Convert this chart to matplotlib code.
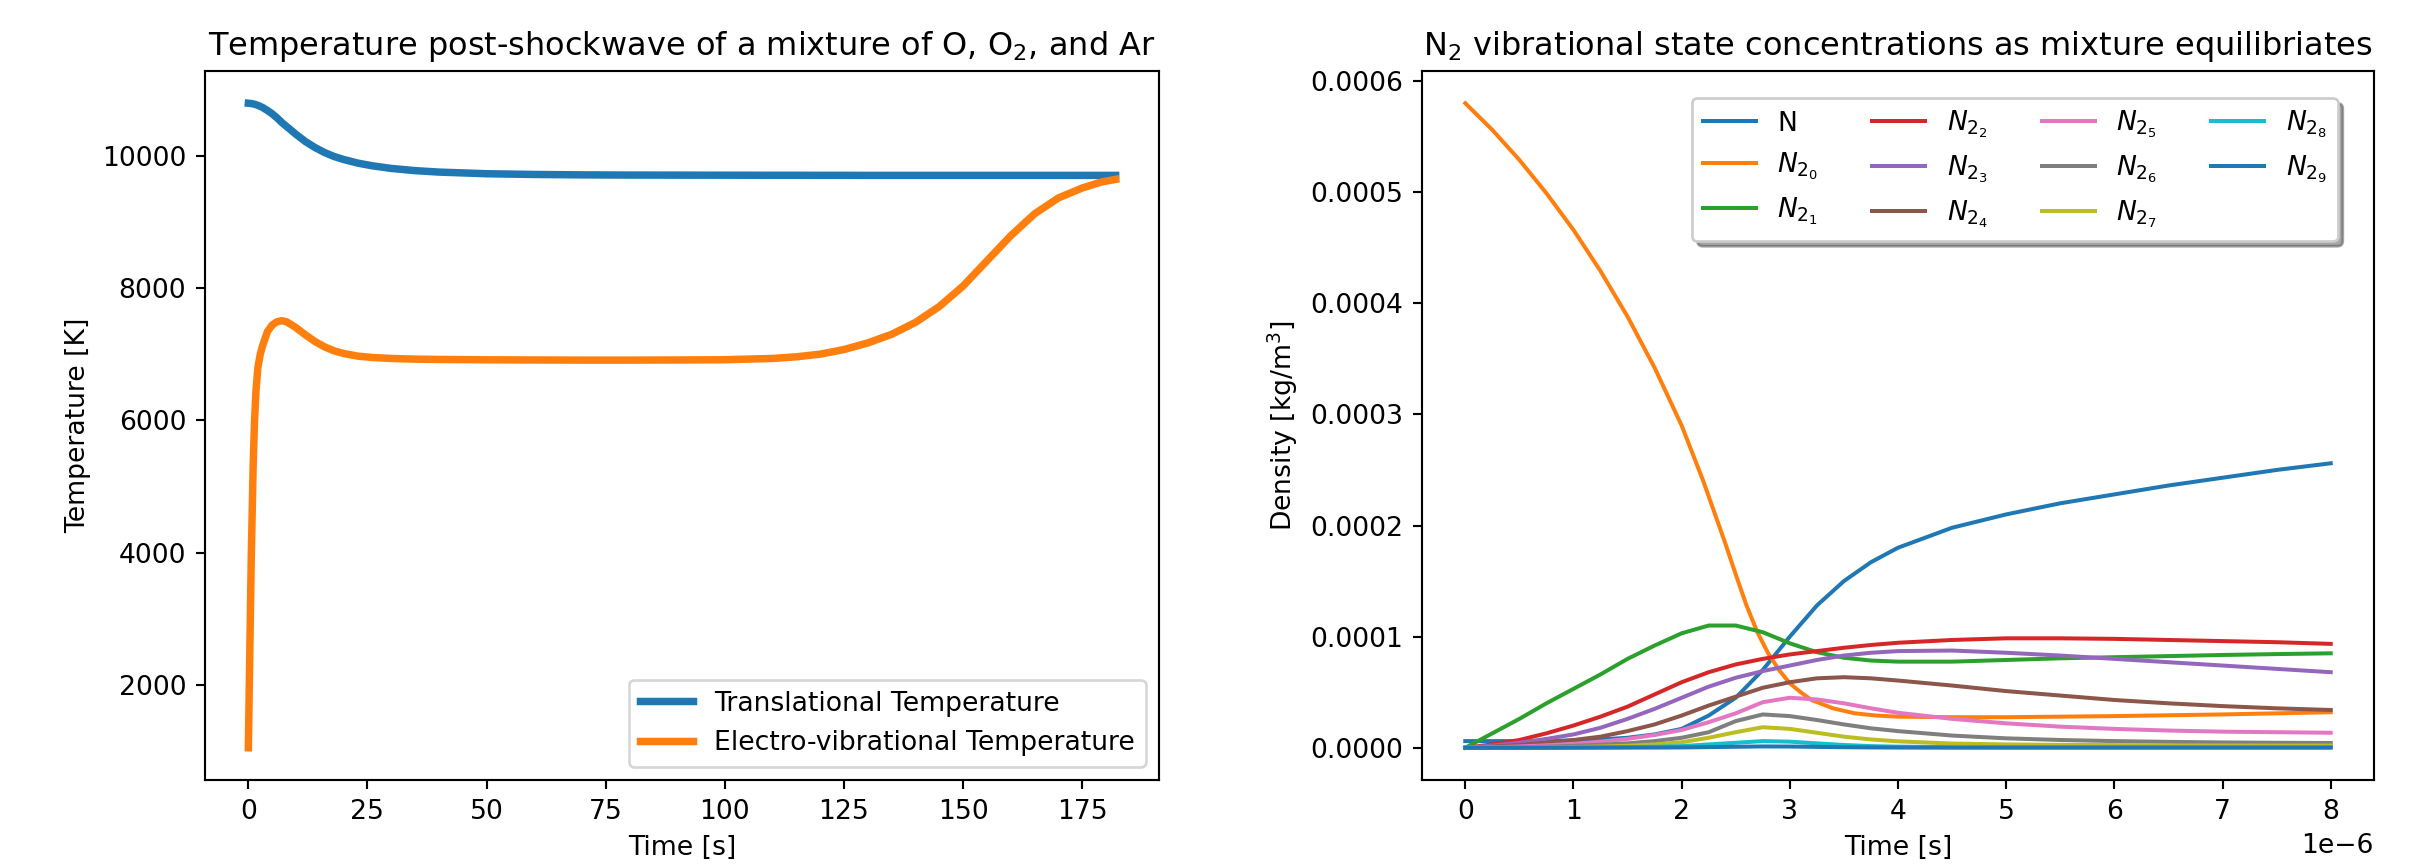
import matplotlib
matplotlib.use("Agg")
import matplotlib.pyplot as plt
import numpy as np

# ---------------- Left panel data (time [s], temperature [K]) ----------------
t_temp = [0, 0.3, 0.6, 1.0, 1.3, 1.6, 2, 2.5, 3, 4, 5, 6, 7, 8, 10, 12, 14, 16, 18,
          20, 23, 26, 30, 35, 40, 50, 60, 70, 80, 90, 100, 110, 115, 120, 125,
          130, 135, 140, 145, 150, 155, 160, 165, 170, 175, 179, 182]
T_trans = [10790, 10788, 10785, 10780, 10775, 10768, 10758, 10742, 10725, 10680,
           10630, 10570, 10500, 10440, 10320, 10210, 10120, 10045, 9985, 9940,
           9885, 9845, 9805, 9772, 9750, 9725, 9714, 9708, 9705, 9704, 9703, 9702,
           9702, 9701, 9701, 9700, 9700, 9700, 9700, 9700, 9700, 9700, 9700, 9700,
           9700, 9700, 9700]
T_ev = [1055, 2500, 3900, 5300, 6000, 6450, 6800, 7000, 7130, 7340, 7440, 7490,
        7505, 7490, 7400, 7290, 7190, 7110, 7050, 7010, 6970, 6950, 6935, 6925,
        6920, 6915, 6912, 6910, 6910, 6912, 6916, 6935, 6960, 7000, 7070, 7170,
        7300, 7480, 7720, 8030, 8410, 8790, 9120, 9360, 9510, 9600, 9640]

# ---------------- Right panel data (time [us], density [1e-4 kg/m^3]) ----------------
t_us = [0, 0.25, 0.5, 0.75, 1.0, 1.25, 1.5, 1.75, 2.0, 2.25, 2.5, 2.75, 3.0,
        3.25, 3.5, 3.75, 4.0, 4.5, 5.0, 5.5, 6.0, 6.5, 7.0, 7.5, 8.0]
rho_N = [0.06, 0.06, 0.06, 0.062, 0.066, 0.075, 0.09, 0.12, 0.17, 0.29, 0.45,
         0.70, 1.00, 1.28, 1.50, 1.67, 1.80, 1.98, 2.10, 2.20, 2.28, 2.36, 2.43,
         2.50, 2.56]
# N2 ground state has a finer time grid of its own
t_us_N2_0 = [0, 0.25, 0.5, 0.75, 1.0, 1.25, 1.5, 1.75, 2.0, 2.2, 2.4, 2.5, 2.6,
             2.7, 2.8, 2.9, 3.0, 3.1, 3.2, 3.4, 3.6, 3.8, 4.0, 4.5, 5.0, 6.0,
             7.0, 8.0]
rho_N2_0 = [5.80, 5.56, 5.29, 4.99, 4.66, 4.29, 3.88, 3.42, 2.90, 2.40, 1.85,
            1.56, 1.28, 1.04, 0.85, 0.70, 0.58, 0.50, 0.43, 0.355, 0.31, 0.29,
            0.28, 0.275, 0.275, 0.285, 0.30, 0.32]
rho_N2_1 = [0.0, 0.13, 0.26, 0.40, 0.53, 0.66, 0.80, 0.92, 1.03, 1.10, 1.10,
            1.04, 0.94, 0.86, 0.81, 0.785, 0.775, 0.775, 0.79, 0.805, 0.815, 0.825,
            0.835, 0.843, 0.85]
rho_N2_2 = [0.0, 0.03, 0.07, 0.13, 0.20, 0.28, 0.37, 0.48, 0.59, 0.68, 0.75,
            0.80, 0.84, 0.87, 0.90, 0.925, 0.945, 0.97, 0.985, 0.985, 0.98, 0.97,
            0.96, 0.95, 0.935]
rho_N2_3 = [0.0, 0.02, 0.045, 0.08, 0.12, 0.18, 0.26, 0.35, 0.45, 0.55, 0.63,
            0.69, 0.74, 0.79, 0.83, 0.855, 0.87, 0.875, 0.855, 0.83, 0.80, 0.77,
            0.74, 0.71, 0.68]
rho_N2_4 = [0.0, 0.01, 0.025, 0.045, 0.07, 0.10, 0.15, 0.21, 0.29, 0.38, 0.46,
            0.54, 0.59, 0.625, 0.635, 0.625, 0.605, 0.56, 0.51, 0.47, 0.43, 0.40,
            0.375, 0.355, 0.34]
rho_N2_5 = [0.0, 0.005, 0.012, 0.022, 0.035, 0.055, 0.08, 0.115, 0.16, 0.23,
            0.31, 0.41, 0.45, 0.435, 0.40, 0.355, 0.315, 0.26, 0.22, 0.19, 0.17,
            0.155, 0.145, 0.14, 0.135]
rho_N2_6 = [0.0, 0.002, 0.005, 0.01, 0.017, 0.027, 0.04, 0.06, 0.09, 0.14, 0.24,
            0.30, 0.285, 0.25, 0.21, 0.175, 0.15, 0.11, 0.085, 0.07, 0.06, 0.053,
            0.048, 0.045, 0.043]
rho_N2_7 = [0.0, 0.001, 0.002, 0.004, 0.007, 0.011, 0.018, 0.03, 0.05, 0.09,
            0.14, 0.185, 0.17, 0.135, 0.10, 0.075, 0.058, 0.038, 0.03, 0.026,
            0.024, 0.022, 0.021, 0.02, 0.02]
rho_N2_8 = [0.0, 0.0005, 0.001, 0.002, 0.003, 0.004, 0.006, 0.009, 0.015, 0.03,
            0.045, 0.06, 0.055, 0.04, 0.025, 0.015, 0.01, 0.006, 0.005, 0.005,
            0.005, 0.005, 0.005, 0.005, 0.005]
rho_N2_9 = [0.0, 0.0, 0.0, 0.0, 0.0005, 0.001, 0.0015, 0.002, 0.003, 0.006,
            0.009, 0.012, 0.011, 0.008, 0.005, 0.003, 0.002, 0.001, 0.001, 0.001,
            0.001, 0.001, 0.001, 0.001, 0.001]

species_labels = ['N', r'$N_{2_0}$', r'$N_{2_1}$', r'$N_{2_2}$', r'$N_{2_3}$',
                  r'$N_{2_4}$', r'$N_{2_5}$', r'$N_{2_6}$', r'$N_{2_7}$',
                  r'$N_{2_8}$', r'$N_{2_9}$']
species_data = [rho_N, rho_N2_0, rho_N2_1, rho_N2_2, rho_N2_3, rho_N2_4,
                rho_N2_5, rho_N2_6, rho_N2_7, rho_N2_8, rho_N2_9]
species_time = [t_us, t_us_N2_0] + [t_us] * 9

# ---------------- Figure ----------------
W, H = 2433, 866
DPI = 192
fig = plt.figure(figsize=(W / DPI, H / DPI), dpi=DPI)
ax1 = fig.add_axes([205 / W, 86 / H, 954 / W, 709 / H])
ax2 = fig.add_axes([1422 / W, 86 / H, 952 / W, 709 / H])

ax1.plot(t_temp, T_trans, lw=2.8, label='Translational Temperature')
ax1.plot(t_temp, T_ev, lw=2.8, label='Electro-vibrational Temperature')
ax1.set_title('Temperature post-shockwave of a mixture of O, O$_2$, and Ar')
ax1.set_xlabel('Time [s]')
ax1.set_ylabel('Temperature [K]')
ax1.legend(loc='lower right')

for lab, tt, dat in zip(species_labels, species_time, species_data):
    ax2.plot(np.array(tt) * 1e-6, np.array(dat) * 1e-4, lw=1.5, label=lab)
ax2.set_title('N$_2$ vibrational state concentrations as mixture equilibriates')
ax2.set_xlabel('Time [s]')
ax2.set_ylabel('Density [kg/m$^3$]')
ax2.legend(ncol=4, shadow=True, loc='upper right', borderaxespad=0,
           bbox_to_anchor=(1 - 36.5 / 952, 1 - 27 / 709))

fig.savefig('out.png', dpi=DPI)
